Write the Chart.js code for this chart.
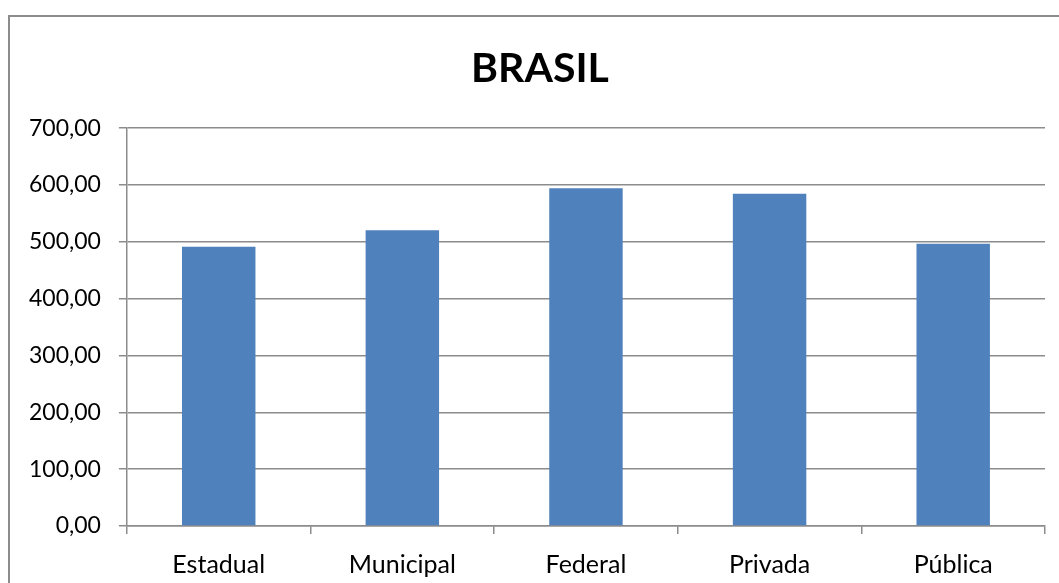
<!DOCTYPE html>
<html>
<head>
<meta charset="utf-8">
<script src="https://cdn.jsdelivr.net/npm/chart.js@4"></script>
<style>
  html, body { margin: 0; padding: 0; background: #fff; }
  #wrap { width: 1059px; height: 583px; position: relative; }
</style>
</head>
<body>
<div id="wrap"><canvas id="grafico"></canvas></div>
<script>
// dados
var categorias = ['Estadual', 'Municipal', 'Federal', 'Privada', 'Pública'];
var valores = [491.5, 520.6, 594.5, 584.5, 496.5];
var tituloGrafico = 'BRASIL';

var corLinha = '#8c8c8c';

// moldura do grafico (estilo Excel) + titulo centrado na moldura
var moldura = {
  id: 'moldura',
  afterLayout: function (chart) {
    var t = chart.titleBlock;
    if (t) { t.left += 12; t.right += 12; }
  },
  beforeDraw: function (chart) {
    var c = chart.ctx;
    c.save();
    c.strokeStyle = '#8c8c8c';
    c.lineWidth = 2;
    c.strokeRect(9, 16, chart.width + 20, chart.height + 20);
    c.restore();
  }
};

var ctx = document.getElementById('grafico').getContext('2d');
var chart = new Chart(ctx, {
  type: 'bar',
  data: {
    labels: categorias,
    datasets: [{
      data: valores,
      backgroundColor: '#4f81bd',
      borderWidth: 0,
      barPercentage: 0.4,
      categoryPercentage: 1.0
    }]
  },
  options: {
    responsive: true,
    maintainAspectRatio: false,
    animation: false,
    layout: {
      padding: { top: 15, left: 11, right: 14, bottom: -13 }
    },
    plugins: {
      legend: { display: false },
      tooltip: { enabled: false },
      title: {
        display: true,
        text: tituloGrafico,
        color: '#000',
        font: { family: 'Lato', size: 41, weight: 'bold' },
        padding: { top: 29, bottom: 35 }
      }
    },
    scales: {
      x: {
        grid: {
          offset: true,
          drawOnChartArea: false,
          drawTicks: true,
          tickLength: 8,
          color: corLinha,
          lineWidth: 1.5
        },
        border: { display: true, color: corLinha, width: 1.5 },
        ticks: {
          color: '#000',
          padding: 16,
          font: { family: 'Lato', size: 25 }
        }
      },
      y: {
        min: 0,
        max: 700,
        grid: {
          drawTicks: true,
          tickLength: 8,
          color: corLinha,
          lineWidth: 1.5
        },
        border: { display: true, color: corLinha, width: 1.5 },
        ticks: {
          stepSize: 100,
          color: '#000',
          padding: 18,
          font: { family: 'Lato', size: 23 },
          callback: function (v) {
            return Number(v).toFixed(2).replace('.', ',');
          }
        }
      }
    }
  },
  plugins: [moldura]
});
</script>
</body>
</html>
